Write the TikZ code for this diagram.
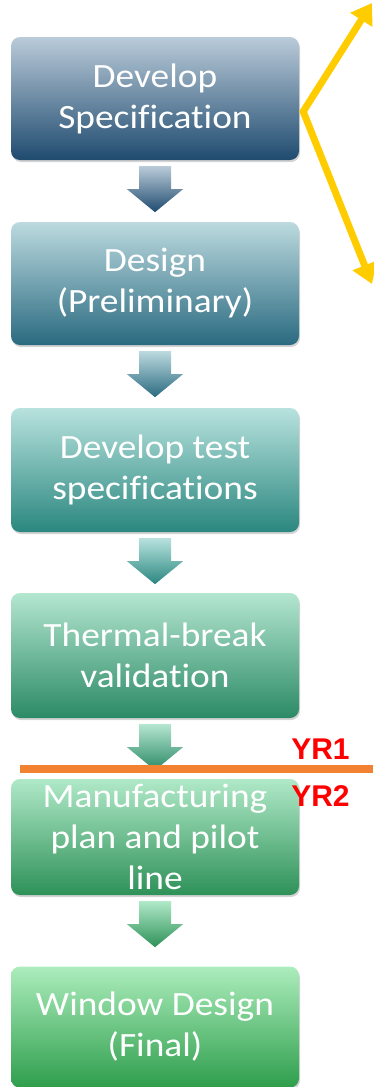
\documentclass[tikz,border=0pt]{standalone}
\usepackage{fontspec}
\setmainfont{Carlito}[FakeStretch=1.1, Ligatures=NoCommon]
\newfontfamily\yrfont{Liberation Sans}
\usetikzlibrary{calc}
\usetikzlibrary{positioning}
\usetikzlibrary{arrows.meta}
\usetikzlibrary{shadows}
\definecolor{spec-top}{HTML}{BACBD9}
\definecolor{spec-mid}{HTML}{8CA5BA}
\definecolor{spec-bot}{HTML}{1F4B6F}
\definecolor{prelim-top}{HTML}{BCDADF}
\definecolor{prelim-mid}{HTML}{8DB8C2}
\definecolor{prelim-bot}{HTML}{2A6A80}
\definecolor{test-top}{HTML}{B8E2DE}
\definecolor{test-mid}{HTML}{86C6BF}
\definecolor{test-bot}{HTML}{2A877F}
\definecolor{thermal-top}{HTML}{B4E6D0}
\definecolor{thermal-mid}{HTML}{80C9A8}
\definecolor{thermal-bot}{HTML}{2B8A66}
\definecolor{pilot-top}{HTML}{B0E9C8}
\definecolor{pilot-mid}{HTML}{7CCC9C}
\definecolor{pilot-bot}{HTML}{2E9158}
\definecolor{final-top}{HTML}{ACEDBC}
\definecolor{final-mid}{HTML}{74D08C}
\definecolor{final-bot}{HTML}{2E9E4C}
\definecolor{fork-yellow}{HTML}{FFCC00}
\definecolor{year-orange}{HTML}{F28232}
\tikzstyle{stagebox}=[rounded corners=9pt, minimum width=288pt, minimum height=123pt, align=center, inner sep=0pt, text=white, font=\fontsize{34}{41}\selectfont, drop shadow={opacity=0.35, shadow xshift=1pt, shadow yshift=-2pt}]
\tikzstyle{forkline}=[fork-yellow, line width=7pt, line join=miter, {Triangle[length=20pt,width=25pt]}-{Triangle[length=20pt,width=25pt]}]
\tikzstyle{yearline}=[year-orange, line width=8pt]
\tikzstyle{yearlabel}=[red, anchor=base, inner sep=0pt, font=\yrfont\bfseries\fontsize{30}{36}\selectfont]
% block arrow hanging below a stage box, Syntax: {node}{top colour}{bottom colour}
\newcommand{\stagearrow}[3]{
	\coordinate (s) at ($(#1.south)+(0,6)$);
	\path[top color=#2, bottom color=#3] ($(s)+(-16,0)$) -- ($(s)+(16,0)$) -- ($(s)+(16,23)$) -- ($(s)+(28,23)$) -- ($(s)+(0,46)$) -- ($(s)+(-28,23)$) -- ($(s)+(-16,23)$) -- cycle;
}

\begin{document}
\begin{tikzpicture}[x=1pt, y=-1pt]
\useasboundingbox (0,0) rectangle (373,1087);
% stages
\node[stagebox, top color=spec-top, middle color=spec-mid, bottom color=spec-bot] (spec) at (155,98.5) {Develop\\Specification};
\node[stagebox, top color=prelim-top, middle color=prelim-mid, bottom color=prelim-bot] (prelim) at (155,283.5) {Design\\(Preliminary)};
\node[stagebox, top color=test-top, middle color=test-mid, bottom color=test-bot, minimum height=124pt] (testspec) at (155,470) {Develop test\\specifications};
\node[stagebox, top color=thermal-top, middle color=thermal-mid, bottom color=thermal-bot, minimum height=125pt] (thermal) at (155,655.5) {Thermal-break\\validation};
\node[stagebox, top color=pilot-top, middle color=pilot-mid, bottom color=pilot-bot, minimum height=116pt] (pilot) at (155,837) {Manufacturing\\plan and pilot\\line};
\node[stagebox, top color=final-top, middle color=final-mid, bottom color=final-bot, minimum height=121pt] (final) at (155,1027) {Window Design\\(Final)};
% arrows between stages
\stagearrow{spec}{spec-top}{spec-bot}
\stagearrow{prelim}{prelim-top}{prelim-bot}
\stagearrow{testspec}{test-top}{test-bot}
\stagearrow{thermal}{thermal-top}{thermal-bot}
\stagearrow{pilot}{pilot-top}{pilot-bot}
% fork off the first stage
\coordinate (fork) at ($(spec.east)+(4,13)$);
\coordinate (fork up) at (372,3);
\coordinate (fork down) at (372,284);
\draw[forkline] (fork up) -- (fork) -- (fork down);
% year boundary
\coordinate (year west) at (20,769);
\coordinate (year east) at (373,769);
\draw[yearline] (year west) -- (year east);
\node[yearlabel] (yr1) at (320.5,759) {YR1};
\node[yearlabel] (yr2) at (320.5,806) {YR2};
\end{tikzpicture}
\end{document}
